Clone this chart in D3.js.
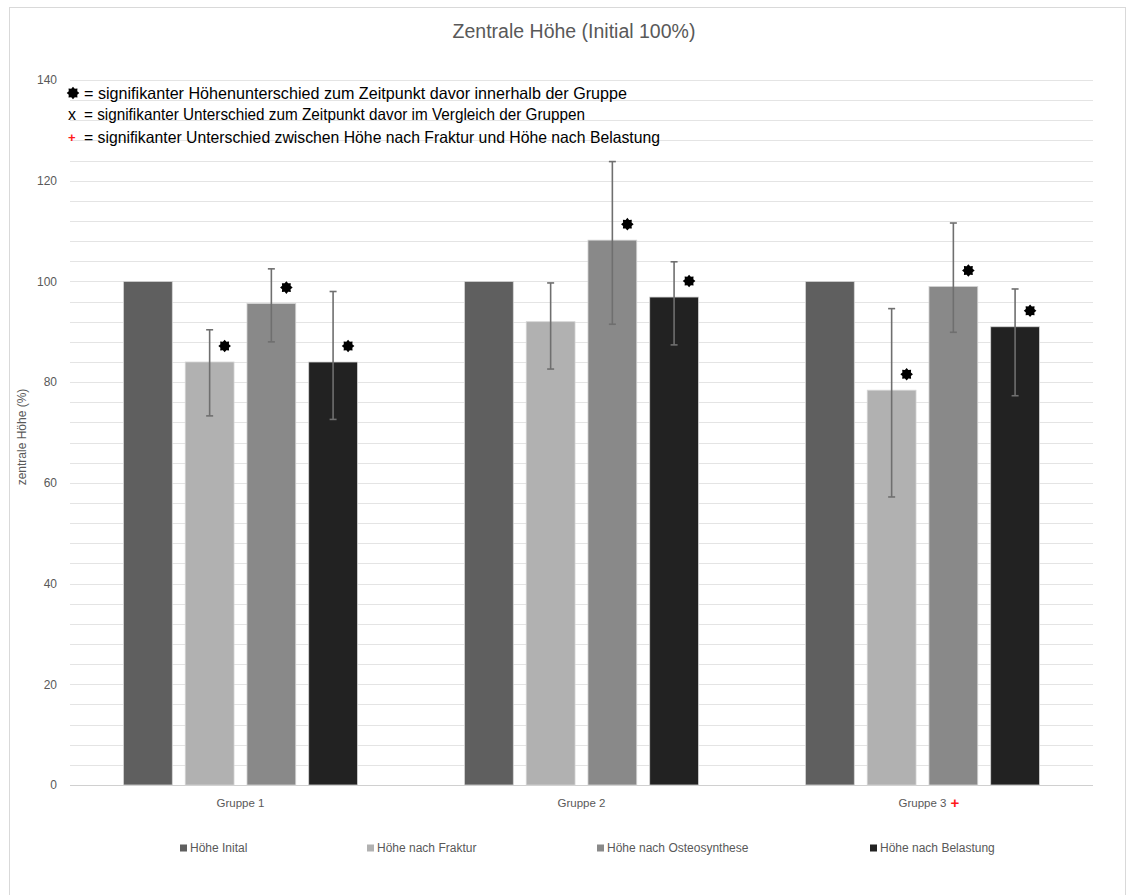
<!DOCTYPE html>
<html>
<head>
<meta charset="utf-8">
<script src="https://cdn.jsdelivr.net/npm/d3@7"></script>
<style>
  body { margin: 0; background: #fff; }
  svg { display: block; }
</style>
</head>
<body>
<div id="chart"></div>
<script>
// values
const groups = ["Gruppe 1", "Gruppe 2", "Gruppe 3"];
const seriesNames = ["Höhe Inital", "Höhe nach Fraktur", "Höhe nach Osteosynthese", "Höhe nach Belastung"];
const seriesColors = ["#5f5f5f", "#b1b1b1", "#898989", "#222222"];

// mean height per group, one row per group, one column per series
const heights = [
    [100, 84.0, 95.6, 84.0],
    [100, 92.0, 108.2, 96.9],
    [100, 78.4, 99.0, 91.0]
];
// error bar ends (null = no error bar)
const errHigh = [
    [null, 90.4, 102.5, 98.0],
    [null, 99.7, 123.8, 103.9],
    [null, 94.6, 111.6, 98.5]
];
const errLow = [
    [null, 73.3, 88.0, 72.6],
    [null, 82.6, 91.5, 87.4],
    [null, 57.2, 89.9, 77.3]
];
// significance star above the bar
const starred = [
    [false, true, true, true],
    [false, false, true, true],
    [false, true, true, true]
];
const yTicks = [0, 20, 40, 60, 80, 100, 120, 140];

const notes = [
    "= signifikanter Höhenunterschied zum Zeitpunkt davor innerhalb der Gruppe",
    "= signifikanter Unterschied zum Zeitpunkt davor im Vergleich der Gruppen",
    "= signifikanter Unterschied zwischen Höhe nach Fraktur und Höhe nach Belastung"
];

const width = 1134, height = 895;
const font = "'Liberation Sans', Arial, sans-serif";
const textGray = "#595959";

let svg = d3.select("#chart").append("svg")
    .attr("width", width)
    .attr("height", height);

// chart frame
svg.append("rect")
    .attr("x", 9.5).attr("y", 7.5)
    .attr("width", 1116).attr("height", 900)
    .attr("fill", "#fff")
    .attr("stroke", "#d9d9d9");

let plot = {left: 70, right: 1093, top: 80, bottom: 785};

let y = d3.scaleLinear()
    .domain([0, 140])
    .range([plot.bottom, plot.top]);

let x0 = d3.scaleBand()
    .domain(groups)
    .range([plot.left, plot.right])
    .paddingInner(0.314)
    .paddingOuter(0.157);

let x1 = d3.scaleBand()
    .domain(d3.range(seriesNames.length))
    .range([0, x0.bandwidth()])
    .paddingInner(0.21);

// gridlines every 4 units
svg.append("g")
    .selectAll("line")
    .data(d3.range(0, 141, 4))
    .enter()
    .append("line")
    .attr("x1", plot.left)
    .attr("x2", plot.right)
    .attr("y1", d => Math.round(y(d)) + 0.5)
    .attr("y2", d => Math.round(y(d)) + 0.5)
    .attr("stroke", d => d === 0 ? "#d0d0d0" : "#e4e4e4")
    .attr("stroke-width", 1.2);

// y axis labels
let yAxis = d3.axisLeft(y).tickValues(yTicks).tickSize(0).tickPadding(0);
svg.append("g")
    .attr("transform", "translate(57,0)")
    .call(yAxis)
    .call(g => g.select(".domain").remove())
    .selectAll("text")
    .style("font-family", font)
    .style("font-size", "12px")
    .style("fill", textGray);

svg.append("text")
    .text("zentrale Höhe (%)")
    .attr("transform", "translate(26, 437), rotate(-90)")
    .attr("text-anchor", "middle")
    .style("font-family", font)
    .style("font-size", "12px")
    .style("fill", textGray);

// title
svg.append("text")
    .text("Zentrale Höhe (Initial 100%)")
    .attr("x", 574)
    .attr("y", 38)
    .attr("text-anchor", "middle")
    .style("font-family", font)
    .style("font-size", "19.5px")
    .style("fill", textGray);

// flatten to one record per bar
let bars = [];
groups.forEach((g, gi) => {
    seriesNames.forEach((s, si) => {
        bars.push({
            group: g, series: si,
            value: heights[gi][si],
            hi: errHigh[gi][si], lo: errLow[gi][si],
            star: starred[gi][si]
        });
    });
});

let barG = svg.append("g");
barG.selectAll("rect")
    .data(bars)
    .enter()
    .append("rect")
    .attr("x", d => x0(d.group) + x1(d.series))
    .attr("y", d => y(d.value))
    .attr("width", x1.bandwidth())
    .attr("height", d => y(0) - y(d.value))
    .attr("fill", d => seriesColors[d.series])
    .attr("stroke", "#d4d4d4")
    .attr("stroke-width", 0.8);

// error bars
let errs = bars.filter(d => d.hi !== null);
let cx = d => x0(d.group) + x1(d.series) + x1.bandwidth() / 2;
let errG = svg.append("g")
    .attr("stroke", "#6f6f6f")
    .attr("stroke-width", 1.6);
errG.selectAll(".stem")
    .data(errs)
    .enter()
    .append("line")
    .attr("x1", cx).attr("x2", cx)
    .attr("y1", d => y(d.hi)).attr("y2", d => y(d.lo));
errG.selectAll(".capHi")
    .data(errs)
    .enter()
    .append("line")
    .attr("x1", d => cx(d) - 3.5).attr("x2", d => cx(d) + 3.5)
    .attr("y1", d => y(d.hi)).attr("y2", d => y(d.hi));
errG.selectAll(".capLo")
    .data(errs)
    .enter()
    .append("line")
    .attr("x1", d => cx(d) - 3.5).attr("x2", d => cx(d) + 3.5)
    .attr("y1", d => y(d.lo)).attr("y2", d => y(d.lo));

// spiky star marker
let starPts = d3.range(16).map(i => [i * Math.PI / 8, i % 2 === 0 ? 6.3 : 4.6]);
let starPath = d3.lineRadial().curve(d3.curveLinearClosed)(starPts);

svg.append("g")
    .selectAll("path")
    .data(bars.filter(d => d.star))
    .enter()
    .append("path")
    .attr("d", starPath)
    .attr("fill", "#000")
    .attr("transform", d => "translate(" + (cx(d) + 15) + "," + (y(d.value) - 16) + ")");

// notes block at the top left
let noteY = [99, 120, 143];
svg.append("path")
    .attr("d", starPath)
    .attr("fill", "#000")
    .attr("transform", "translate(73, 93)");
svg.append("text")
    .text("x")
    .attr("x", 68).attr("y", noteY[1])
    .style("font-family", font)
    .style("font-size", "16px")
    .style("fill", "#000");
svg.append("text")
    .text("+")
    .attr("x", 68).attr("y", noteY[2] - 1)
    .style("font-family", font)
    .style("font-size", "13px")
    .style("font-weight", "bold")
    .style("fill", "#ff1a1a");
let noteEnds = [627, 585, 660];
notes.forEach((t, i) => {
    svg.append("text")
        .text(t)
        .attr("x", 84).attr("y", noteY[i])
        .attr("textLength", noteEnds[i] - 84)
        .attr("lengthAdjust", "spacingAndGlyphs")
        .style("font-family", font)
        .style("font-size", "16.5px")
        .style("fill", "#000");
});

// group labels
svg.append("g")
    .selectAll("text")
    .data(groups)
    .enter()
    .append("text")
    .attr("x", d => x0(d) + x0.bandwidth() / 2)
    .attr("y", 807)
    .attr("text-anchor", "middle")
    .style("font-family", font)
    .style("font-size", "11.5px")
    .style("fill", textGray)
    .text(d => d);
svg.append("text")
    .text("+")
    .attr("x", x0("Gruppe 3") + x0.bandwidth() / 2 + 28)
    .attr("y", 808)
    .style("font-family", font)
    .style("font-size", "15px")
    .style("font-weight", "bold")
    .style("fill", "#ff1a1a");

// legend
let legendX = [180, 367, 597, 870];
let legendY = 848;
let leg = svg.append("g")
    .selectAll("g")
    .data(seriesNames)
    .enter()
    .append("g")
    .attr("transform", (d, i) => "translate(" + legendX[i] + "," + legendY + ")");
leg.append("rect")
    .attr("x", 0).attr("y", -3.5)
    .attr("width", 7).attr("height", 7)
    .attr("fill", (d, i) => seriesColors[i]);
leg.append("text")
    .text(d => d)
    .attr("x", 10)
    .attr("y", 4)
    .style("font-family", font)
    .style("font-size", "12px")
    .style("fill", textGray);
</script>
</body>
</html>
